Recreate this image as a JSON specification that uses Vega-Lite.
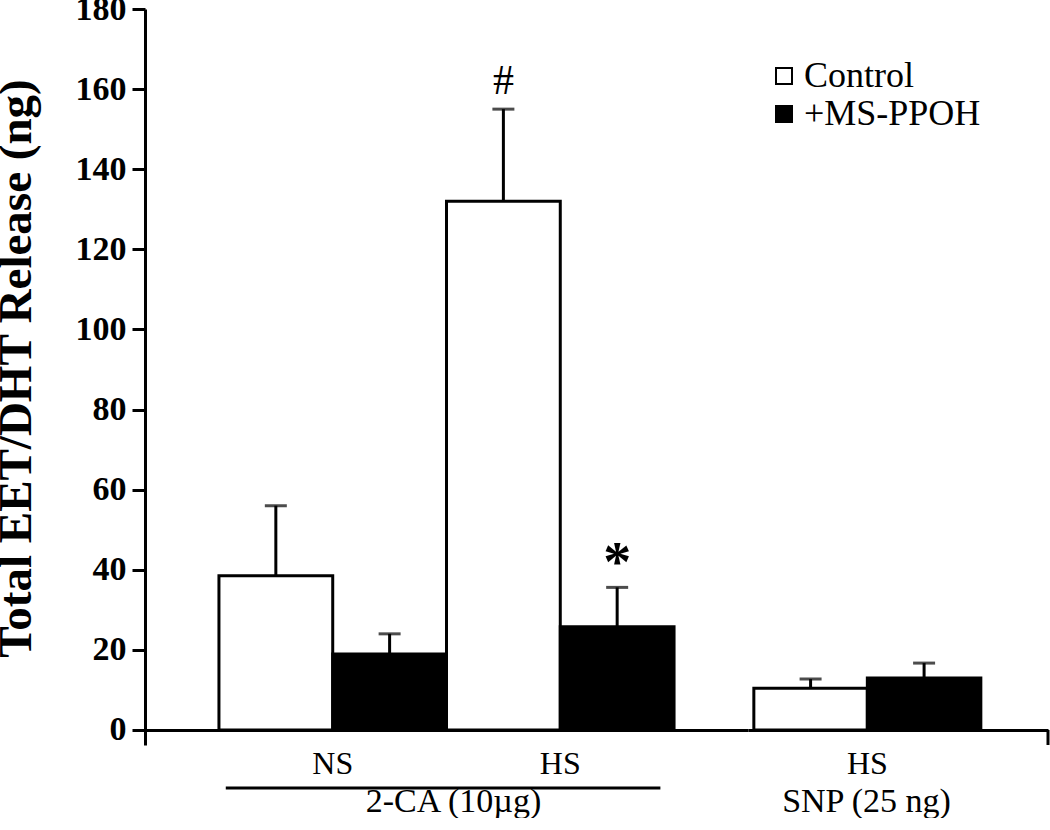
{
  "$schema": "https://vega.github.io/schema/vega-lite/v6.json",
  "padding": {"left": -8, "top": -8, "right": 0, "bottom": 0},
  "background": "white",
  "config": {"view": {"stroke": null}, "font": "Liberation Serif",
    "style": {"guide-label": {"font": "Liberation Serif"}},
    "legend": {"labelFont": "Liberation Serif", "labelFontSize": 36, "labelLimit": 400, "labelColor": "black"}},
  "datasets": {
    "ca": [
      {"cond": "NS", "treat": "Control", "mean": 38.5, "upper": 56, "sig": ""},
      {"cond": "NS", "treat": "+MS-PPOH", "mean": 19, "upper": 24, "sig": ""},
      {"cond": "HS", "treat": "Control", "mean": 132, "upper": 155, "sig": "#"},
      {"cond": "HS", "treat": "+MS-PPOH", "mean": 25.8, "upper": 35.6, "sig": "*"}
    ],
    "snp": [
      {"cond": "HS", "treat": "Control", "mean": 10.4, "upper": 12.7},
      {"cond": "HS", "treat": "+MS-PPOH", "mean": 13, "upper": 16.7}
    ],
    "bracket": [{"first": "NS", "last": "HS"}]
  },
  "spacing": 0,
  "resolve": {"scale": {"x": "independent", "xOffset": "independent", "y": "independent", "color": "independent"}, "legend": {"color": "independent"}},
  "hconcat": [
    {
      "width": 603,
      "height": 736,
      "layer": [
        {
          "data": {"name": "ca"},
          "mark": {"type": "bar", "stroke": "black", "strokeWidth": 3},
          "encoding": {
            "x": {"field": "cond", "type": "nominal", "sort": ["NS", "HS"],
              "scale": {"domain": ["NS", "HS"], "paddingInner": 0, "paddingOuter": 0.325},
              "axis": {"title": "2-CA (10µg)", "orient": "bottom", "offset": -15, "ticks": false, "tickSize": 0,
                "domainColor": "black", "domainWidth": 3, "labelAngle": 0,
                "labelFont": "Liberation Serif", "labelFontSize": 32, "labelColor": "black", "labelPadding": 18,
                "titleFont": "Liberation Serif", "titleFontSize": 34, "titleFontWeight": "normal", "titleColor": "black", "titlePadding": 5, "titleX": 308}},
            "xOffset": {"field": "treat", "type": "nominal", "sort": ["Control", "+MS-PPOH"],
              "scale": {"domain": ["Control", "+MS-PPOH"], "paddingInner": 0, "paddingOuter": 0}},
            "y": {"field": "mean", "type": "quantitative",
              "scale": {"domain": [-3.75, 180], "nice": false, "zero": false},
              "axis": {"title": "Total EET/DHT Release (ng)", "values": [0, 20, 40, 60, 80, 100, 120, 140, 160, 180],
                "grid": false, "domainColor": "black", "domainWidth": 3, "tickColor": "black", "tickWidth": 3, "tickSize": 13,
                "labelFont": "Liberation Serif", "labelFontSize": 34, "labelFontWeight": "bold", "labelColor": "black", "labelPadding": 6,
                "titleFont": "Liberation Serif", "titleFontSize": 47, "titleFontWeight": "bold", "titleColor": "black", "titlePadding": 35, "titleY": 359}},
            "color": {"field": "treat", "type": "nominal", "scale": {"domain": ["Control", "+MS-PPOH"], "range": ["white", "black"]}, "legend": null}
          }
        },
        {
          "data": {"name": "ca"},
          "mark": {"type": "rule", "color": "black", "strokeWidth": 3},
          "encoding": {
            "x": {"field": "cond", "type": "nominal"},
            "xOffset": {"field": "treat", "type": "nominal"},
            "y": {"field": "mean", "type": "quantitative"},
            "y2": {"field": "upper"}
          }
        },
        {
          "data": {"name": "ca"},
          "mark": {"type": "tick", "color": "black", "thickness": 3, "size": 22},
          "encoding": {
            "x": {"field": "cond", "type": "nominal"},
            "xOffset": {"field": "treat", "type": "nominal"},
            "y": {"field": "upper", "type": "quantitative"}
          }
        },
        {
          "data": {"name": "ca"},
          "transform": [{"filter": "datum.sig == '#'"}],
          "mark": {"type": "text", "font": "Liberation Serif", "fontSize": 42, "color": "black", "baseline": "alphabetic", "dy": -15},
          "encoding": {
            "x": {"field": "cond", "type": "nominal"},
            "xOffset": {"field": "treat", "type": "nominal"},
            "y": {"field": "upper", "type": "quantitative"},
            "text": {"field": "sig"}
          }
        },
        {
          "data": {"name": "ca"},
          "transform": [{"filter": "datum.sig == '*'"}],
          "mark": {"type": "text", "font": "Liberation Serif", "fontSize": 56, "fontWeight": "bold", "color": "black", "baseline": "alphabetic", "dy": -6},
          "encoding": {
            "x": {"field": "cond", "type": "nominal"},
            "xOffset": {"field": "treat", "type": "nominal"},
            "y": {"field": "upper", "type": "quantitative"},
            "text": {"field": "sig"}
          }
        },
        {
          "data": {"name": "bracket"},
          "mark": {"type": "rule", "color": "black", "strokeWidth": 3, "clip": false},
          "encoding": {
            "x": {"field": "first", "type": "nominal", "bandPosition": 0.03},
            "x2": {"field": "last", "bandPosition": 0.94},
            "y": {"datum": -14.5}
          }
        }
      ]
    },
    {
      "width": 300,
      "height": 736,
      "layer": [
        {
          "data": {"name": "snp"},
          "mark": {"type": "bar", "stroke": "black", "strokeWidth": 3},
          "encoding": {
            "x": {"field": "cond", "type": "nominal",
              "scale": {"domain": ["HS"], "paddingInner": 0, "paddingOuter": 0.1608, "align": 0.08},
              "axis": {"title": "SNP (25 ng)", "orient": "bottom", "offset": -15, "ticks": false, "tickSize": 0,
                "domainColor": "black", "domainWidth": 3, "labelAngle": 0,
                "labelFont": "Liberation Serif", "labelFontSize": 32, "labelColor": "black", "labelPadding": 18,
                "titleFont": "Liberation Serif", "titleFontSize": 34, "titleFontWeight": "normal", "titleColor": "black", "titlePadding": 5, "titleX": 118}},
            "xOffset": {"field": "treat", "type": "nominal", "sort": ["Control", "+MS-PPOH"],
              "scale": {"domain": ["Control", "+MS-PPOH"], "paddingInner": 0, "paddingOuter": 0}},
            "y": {"field": "mean", "type": "quantitative",
              "scale": {"domain": [-3.75, 180], "nice": false, "zero": false}, "axis": null},
            "color": {"field": "treat", "type": "nominal",
              "scale": {"domain": ["Control", "+MS-PPOH"], "range": ["white", "black"]},
              "legend": {"title": null, "orient": "none", "legendX": 18, "legendY": 49, "padding": 0,
                "symbolType": "square", "symbolSize": 256, "symbolStrokeColor": "black", "symbolStrokeWidth": 2,
                "labelFont": "Liberation Serif", "labelFontSize": 36, "labelColor": "black", "labelOffset": 2, "labelLimit": 400, "rowPadding": 2}}
          }
        },
        {
          "data": {"name": "snp"},
          "mark": {"type": "rule", "color": "black", "strokeWidth": 3},
          "encoding": {
            "x": {"field": "cond", "type": "nominal"},
            "xOffset": {"field": "treat", "type": "nominal"},
            "y": {"field": "mean", "type": "quantitative"},
            "y2": {"field": "upper"}
          }
        },
        {
          "data": {"name": "snp"},
          "mark": {"type": "tick", "color": "black", "thickness": 3, "size": 22},
          "encoding": {
            "x": {"field": "cond", "type": "nominal"},
            "xOffset": {"field": "treat", "type": "nominal"},
            "y": {"field": "upper", "type": "quantitative"}
          }
        },
        {
          "data": {"name": "bracket"},
          "mark": {"type": "rule", "color": "black", "strokeWidth": 3, "clip": false},
          "encoding": {
            "x": {"value": {"expr": "concat_1_width"}},
            "y": {"datum": 0},
            "y2": {"datum": -3.75}
          }
        }
      ]
    }
  ]
}
